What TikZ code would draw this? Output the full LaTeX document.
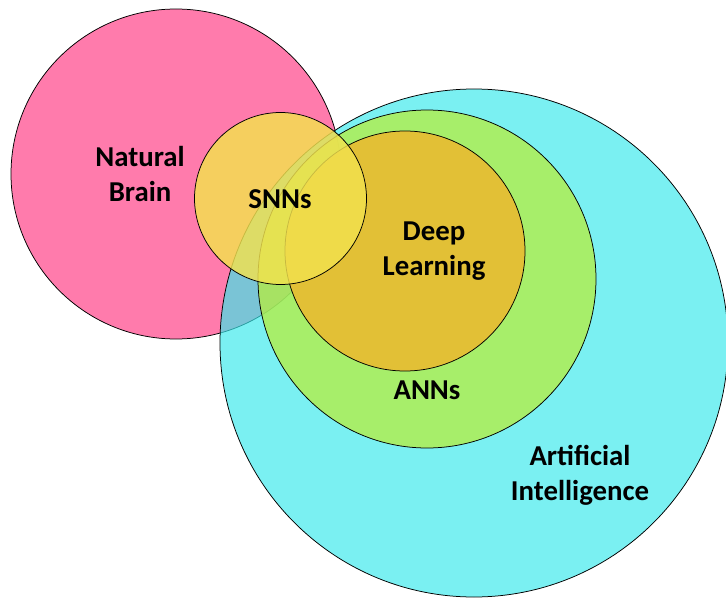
\documentclass[tikz,border=0pt]{standalone}
\usepackage{fontspec}
\setmainfont{Carlito}
\definecolor{pinkc}{RGB}{255,123,172}
\definecolor{cyanc}{RGB}{57,233,236}
\definecolor{greenc}{RGB}{183,237,61}
\definecolor{goldc}{RGB}{226,192,54}
\definecolor{yellowc}{RGB}{243,226,78}
\tikzset{
  ring/.style={draw=black, line width=0.75pt},
  label/.style={font=\bfseries\fontsize{28.8}{35}\selectfont, align=center, text=black, inner sep=0pt}
}
\begin{document}
\begin{tikzpicture}[x=1pt,y=-1pt]
\useasboundingbox (0,0) rectangle (726,599);
\clip (0,0) rectangle (726,599);
% Natural brain
\path[ring, fill=pinkc] (176,174) circle[radius=165pt];
% Artificial intelligence
\path[ring, fill=cyanc, fill opacity=0.67] (474,343) circle[radius=254pt];
% ANNs
\path[ring, fill=greenc, fill opacity=0.75] (427,279) circle[radius=169pt];
% Deep learning
\path[ring, fill=goldc] (405,251) circle[radius=120pt];
% SNNs
\path[ring, fill=yellowc, fill opacity=0.82] (280.5,198.5) circle[radius=86pt];
% labels
\node[label] (nb) at (140,174) {Natural\\Brain};
\node[label] (snn) at (280,199) {SNNs};
\node[label] (dl) at (434,251) {Deep\\Learning};
\node[label] (ann) at (427,390) {ANNs};
\node[label] (ai) at (580,475) {Artificial\\Intelligence};
\end{tikzpicture}
\end{document}
